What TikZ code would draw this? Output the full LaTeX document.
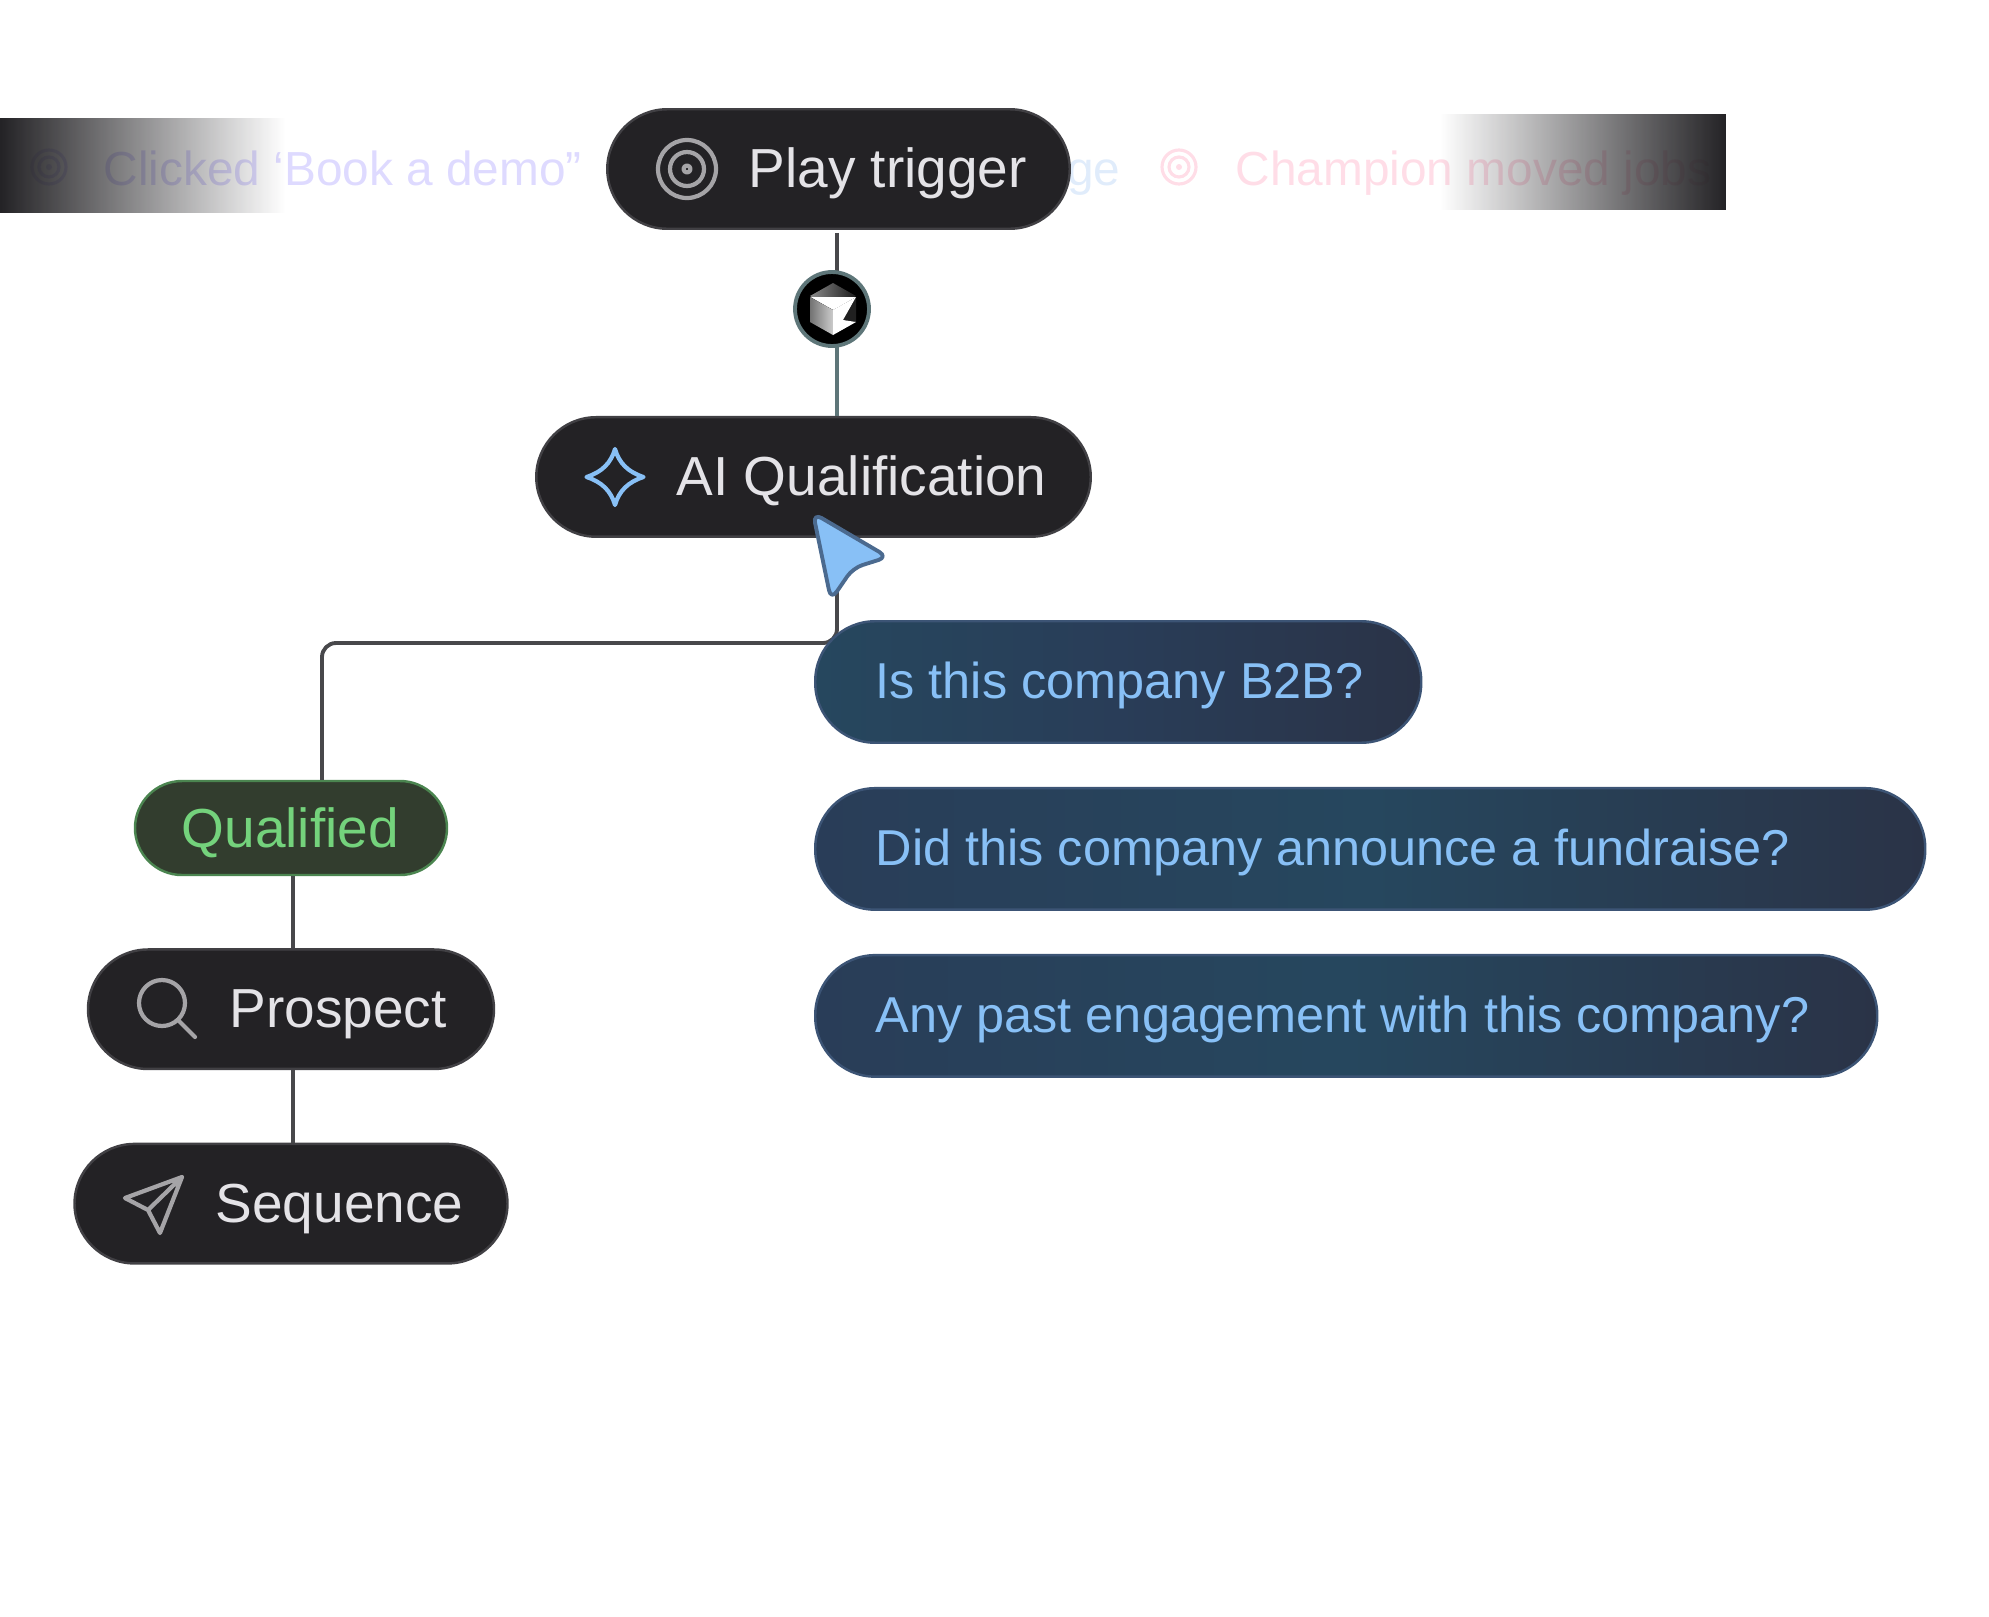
\documentclass[tikz,border=0pt]{standalone}
\usepackage{fontspec}
\setmainfont{Liberation Sans}
\usetikzlibrary{positioning,fadings}
\definecolor{pillbg}{HTML}{232225}
\definecolor{pilledge}{HTML}{414044}
\definecolor{pilltext}{HTML}{E4E3E7}
\definecolor{iconline}{HTML}{A5A4A7}
\definecolor{linkcolor}{HTML}{48484B}
\definecolor{linkteal}{HTML}{5E7679}
\definecolor{skyblue}{HTML}{88C0F6}
\definecolor{qualbg}{HTML}{323D2E}
\definecolor{qualedge}{HTML}{4B8550}
\definecolor{qualtext}{HTML}{74D37C}
\definecolor{askedge}{HTML}{3C5475}
\definecolor{askteal}{HTML}{26475E}
\definecolor{askslate}{HTML}{293D58}
\definecolor{askdark}{HTML}{2A3347}
\definecolor{lavender}{HTML}{DEDAFF}
\definecolor{palepink}{HTML}{FFDDE7}
\definecolor{paleblue}{HTML}{E0ECFB}
\tikzset{
  pill/.style={rectangle, rounded corners=0.6cm, minimum height=1.195cm,
    inner sep=0pt, fill=pillbg, draw=pilledge, line width=0.7pt},
  qualpill/.style={pill, minimum height=0.94cm, rounded corners=0.47cm,
    fill=qualbg, draw=qualedge},
  askpill/.style={pill, minimum height=1.215cm, draw=askedge},
  pilllabel/.style={anchor=base west, inner sep=0pt, text=pilltext,
    font=\fontsize{15.65}{18}\selectfont},
  asklabel/.style={anchor=base west, inner sep=0pt, text=skyblue,
    font=\fontsize{14.35}{18}\selectfont},
  ticker/.style={anchor=base west, inner sep=0pt,
    font=\fontsize{13.6}{18}\selectfont},
  link/.style={draw=linkcolor, line width=1.1pt, line join=round},
  iconln/.style={draw=iconline, line width=1.2pt, line cap=round, line join=round},
}
\begin{document}
\begin{tikzpicture}
  \useasboundingbox (0,0) rectangle (19.89,-16.16);
  % faded row behind the trigger
  \draw[lavender, line width=0.9pt] (0.49,-1.67) circle (0.17) circle (0.1);
  \fill[lavender] (0.49,-1.67) circle (0.03);
  \node[ticker, text=lavender] (clicked) at (1.03,-1.85) {Clicked ‘Book a demo”};
  \node[ticker, text=paleblue, anchor=base east] (page) at (11.21,-1.85) {ge};
  \draw[palepink, line width=0.9pt] (11.79,-1.67) circle (0.17) circle (0.1);
  \fill[palepink] (11.79,-1.67) circle (0.03);
  \node[ticker, text=palepink] (champion) at (12.35,-1.85) {Champion moved jobs};
  \fill[pillbg, path fading=east] (0,-1.18) rectangle (2.85,-2.13);
  \fill[pillbg, path fading=west] (14.4,-1.14) rectangle (17.26,-2.10);

  % flow nodes
  \node[pill, minimum width=4.625cm] (play) at (8.385,-1.69) {};
  \node[pill, minimum width=5.545cm, below=1.86cm of play, xshift=-0.25cm] (ai) {};
  \node[qualpill, minimum width=3.12cm] (qual) at (2.91,-8.28) {};
  \node[pill, minimum width=4.06cm, below=0.72cm of qual] (prospect) {};
  \node[pill, minimum width=4.33cm, below=0.725cm of prospect] (sequence) {};
  \coordinate (jog) at (8.37,-6.43);
  \coordinate (stem) at (3.22,-6.43);
  \coordinate (spine) at (2.93,-9);
  \coordinate (badgeat) at (8.32,-3.09);

  % connectors
  \draw[link, shorten <=0.03cm] (play.south -| jog) -- (badgeat -| jog);
  \draw[link, draw=linkteal] (badgeat -| jog) -- (ai.north -| jog);
  \draw[link, rounded corners=0.14cm] (ai.south -| jog) -- (jog) -- (stem) -- (qual.north -| stem);
  \draw[link] (qual.south -| spine) -- (prospect.north -| spine);
  \draw[link] (prospect.south -| spine) -- (sequence.north -| spine);

  % question pills
  \node[askpill, minimum width=6.06cm, left color=askteal, right color=askdark, middle color=askslate,
    anchor=north west] (isb2b) at (8.14,-6.2) {};
  \node[askpill, minimum width=11.1cm, left color=askslate, right color=askdark, middle color=askteal,
    below=0.43cm of isb2b.south west, anchor=north west] (fundraise) {};
  \node[askpill, minimum width=10.62cm, left color=askslate, right color=askdark, middle color=askteal,
    below=0.43cm of fundraise.south west, anchor=north west] (engage) {};

  % labels
  \node[pilllabel] (playtxt) at (7.48,-1.87) {Play trigger};
  \node[pilllabel] (aitxt) at (6.76,-4.95) {AI Qualification};
  \node[pilllabel, text=qualtext] (qualtxt) at (1.81,-8.47) {Qualified};
  \node[pilllabel] (prospecttxt) at (2.29,-10.27) {Prospect};
  \node[pilllabel] (sequencetxt) at (2.15,-12.22) {Sequence};
  \node[asklabel] (isb2btxt) at (8.75,-6.98) {Is this company B2B?};
  \node[asklabel] (fundraisetxt) at (8.75,-8.65) {Did this company announce a fundraise?};
  \node[asklabel] (engagetxt) at (8.75,-10.32) {Any past engagement with this company?};

  % icons
  \draw[iconln] (6.87,-1.69) circle (0.29) circle (0.17) circle (0.035);
  \draw[skyblue, line width=1.2pt, line join=round]
    (6.15,-4.49) .. controls (6.19,-4.63) and (6.28,-4.72) .. (6.435,-4.77)
    .. controls (6.28,-4.82) and (6.19,-4.91) .. (6.15,-5.05)
    .. controls (6.11,-4.91) and (6.02,-4.82) .. (5.865,-4.77)
    .. controls (6.02,-4.72) and (6.11,-4.63) .. cycle;
  \draw[iconln] (1.62,-10.03) circle (0.23);
  \draw[iconln] (1.78,-10.2) -- (1.95,-10.37);
  \draw[iconln] (1.82,-11.77) -- (1.25,-11.98) -- (1.48,-12.1) -- (1.6,-12.33) -- cycle
    (1.82,-11.77) -- (1.48,-12.1);

  % badge on the first connector
  \node[circle, fill=black, draw=linkteal, line width=1.1pt, minimum size=0.74cm, inner sep=0pt]
    (badge) at (badgeat) {};
  \fill[left color=gray!90!white, right color=gray!20!black] (8.1,-2.96) -- (8.33,-2.83) -- (8.56,-2.96) -- (8.33,-3.1) -- cycle;
  \fill[gray!25!black] (8.56,-2.97) -- (8.56,-3.22) -- (8.43,-3.2) -- cycle;
  \fill[white] (8.1,-2.97) -- (8.56,-2.97) -- (8.33,-3.1) -- cycle;
  \fill[left color=gray!90!black, right color=gray!40!white] (8.1,-2.97) -- (8.33,-3.1) -- (8.33,-3.35) -- (8.1,-3.22) -- cycle;
  \fill[white] (8.33,-3.1) -- (8.56,-2.97) -- (8.43,-3.2) -- (8.56,-3.22) -- (8.33,-3.35) -- cycle;

  % pointer
  \draw[fill=skyblue, draw=askedge!80!skyblue, line width=1.1pt, rounded corners=0.1cm, line join=round]
    (8.13,-5.13) -- (8.88,-5.57) -- (8.53,-5.68) -- (8.31,-6.0) -- cycle;
\end{tikzpicture}
\end{document}
